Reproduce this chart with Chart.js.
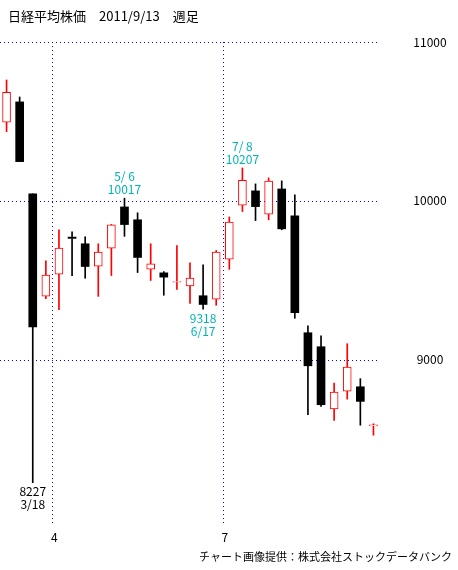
<!DOCTYPE html><html><head><meta charset="utf-8">
<script src="https://cdn.jsdelivr.net/npm/chart.js@4"></script>
<style>body{margin:0;background:#fff}#w{position:relative;width:458px;height:570px}</style></head><body><div id="w"><canvas id="c"></canvas></div>
<script>
const weeks=["1/28","2/4","3/18","3/25","4/1","4/8","4/15","4/22","4/28","5/6","5/13","5/20","5/27","6/3","6/10","6/17","6/24","7/1","7/8","7/15","7/22","7/29","8/5","8/12","8/19","8/26","9/2","9/9","9/13"];
const opens=[10495,10623,10044,9400,9539,9772,9730,9589,9703,9962,9881,9570,9547,9488,9464,9403,9382,9633,9973,10063,9916,10075,9906,9170,9082,8690,8803,8830,8583];
const closes=[10684,10247,9206,9533,9703,9764,9587,9677,9849,9851,9644,9604,9520,9492,9514,9348,9677,9866,10130,9964,10124,9824,9297,8962,8717,8797,8954,8738,8591];
const highs=[10761,10654,10044,9623,9818,9805,9774,9730,9852,10017,9925,9730,9555,9719,9610,9597,9688,9899,10207,10107,10145,10126,10038,9214,9151,8853,9101,8881,8597];
const lows=[10436,10247,8227,9385,9316,9530,9513,9399,9530,9777,9549,9499,9406,9443,9355,9318,9343,9569,9933,9876,9881,9818,9261,8654,8706,8619,8752,8588,8525];
const yTicks=[11000,10000,9000];
const monthMarks=[{after:3,label:"4"},{after:16,label:"7"}];
const notes=[{i:2,lines:["8227","3/18"],pos:"below",color:"#000"},{i:9,lines:["5/ 6","10017"],pos:"above",color:"#00b4b4"},{i:15,lines:["9318","6/17"],pos:"below",color:"#00b4b4"},{i:18,lines:["7/ 8","10207"],pos:"above",color:"#00b4b4"}];
const up=opens.map((o,i)=>closes[i]>=o);
const FONT='"Noto Sans CJK JP", sans-serif';
const deco={id:'deco',beforeDatasetsDraw(ch){const {ctx,chartArea:a,scales:{x,y}}=ch;ctx.save();ctx.strokeStyle='#0000ff';ctx.lineWidth=1;ctx.setLineDash([1,3]);
yTicks.forEach(v=>{const py=Math.round(y.getPixelForValue(v))+0.5;ctx.beginPath();ctx.moveTo(a.left,py);ctx.lineTo(a.right,py);ctx.stroke();});
monthMarks.forEach(m=>{const px=Math.round((x.getPixelForValue(m.after)+x.getPixelForValue(m.after+1))/2)+0.5;ctx.beginPath();ctx.moveTo(px,a.top);ctx.lineTo(px,a.bottom);ctx.stroke();});
ctx.restore();},
afterDatasetsDraw(ch){const {ctx,chartArea:a,scales:{x,y}}=ch;ctx.save();ctx.font='12px '+FONT;ctx.textAlign='center';ctx.textBaseline='middle';ctx.fillStyle='#000';
yTicks.forEach(v=>ctx.fillText(String(v),430,y.getPixelForValue(v)));
monthMarks.forEach(m=>{const px=(x.getPixelForValue(m.after)+x.getPixelForValue(m.after+1))/2;ctx.fillText(m.label,px+2,a.bottom+12);});
notes.forEach(n=>{ctx.fillStyle=n.color;const px=x.getPixelForValue(n.i);if(n.pos==='above'){const py=y.getPixelForValue(highs[n.i]);ctx.fillText(n.lines[0],px,py-22);ctx.fillText(n.lines[1],px,py-9);}else{const py=y.getPixelForValue(lows[n.i]);ctx.fillText(n.lines[0],px,py+9);ctx.fillText(n.lines[1],px,py+22);}});
ctx.fillStyle='#000';ctx.textAlign='left';ctx.font='13px '+FONT;ctx.fillText('日経平均株価　2011/9/13　週足',8,16);
ctx.font='11px '+FONT;ctx.textAlign='right';ctx.fillText('チャート画像提供：株式会社ストックデータバンク',452,557);ctx.restore();}};
new Chart(document.getElementById('c'),{type:'bar',data:{labels:weeks,datasets:[
{data:lows.map((l,i)=>[l,highs[i]]),backgroundColor:up.map(u=>u?'#ff0000':'#000'),barThickness:1,grouped:false,order:2},
{data:opens.map((o,i)=>[o,closes[i]]),backgroundColor:up.map(u=>u?'#fff':'#000'),borderColor:up.map(u=>u?'#ff0000':'#000'),borderWidth:up.map(u=>u?1:0),borderSkipped:false,barThickness:8,grouped:false,order:1}]},
options:{responsive:true,maintainAspectRatio:false,animation:false,devicePixelRatio:1,layout:{padding:{top:42,bottom:45,left:0,right:78}},
plugins:{legend:{display:false},tooltip:{enabled:false}},
scales:{x:{display:false,offset:true,grid:{display:false}},y:{display:false,min:7960,max:11000}}},plugins:[deco]});
</script></body></html>
